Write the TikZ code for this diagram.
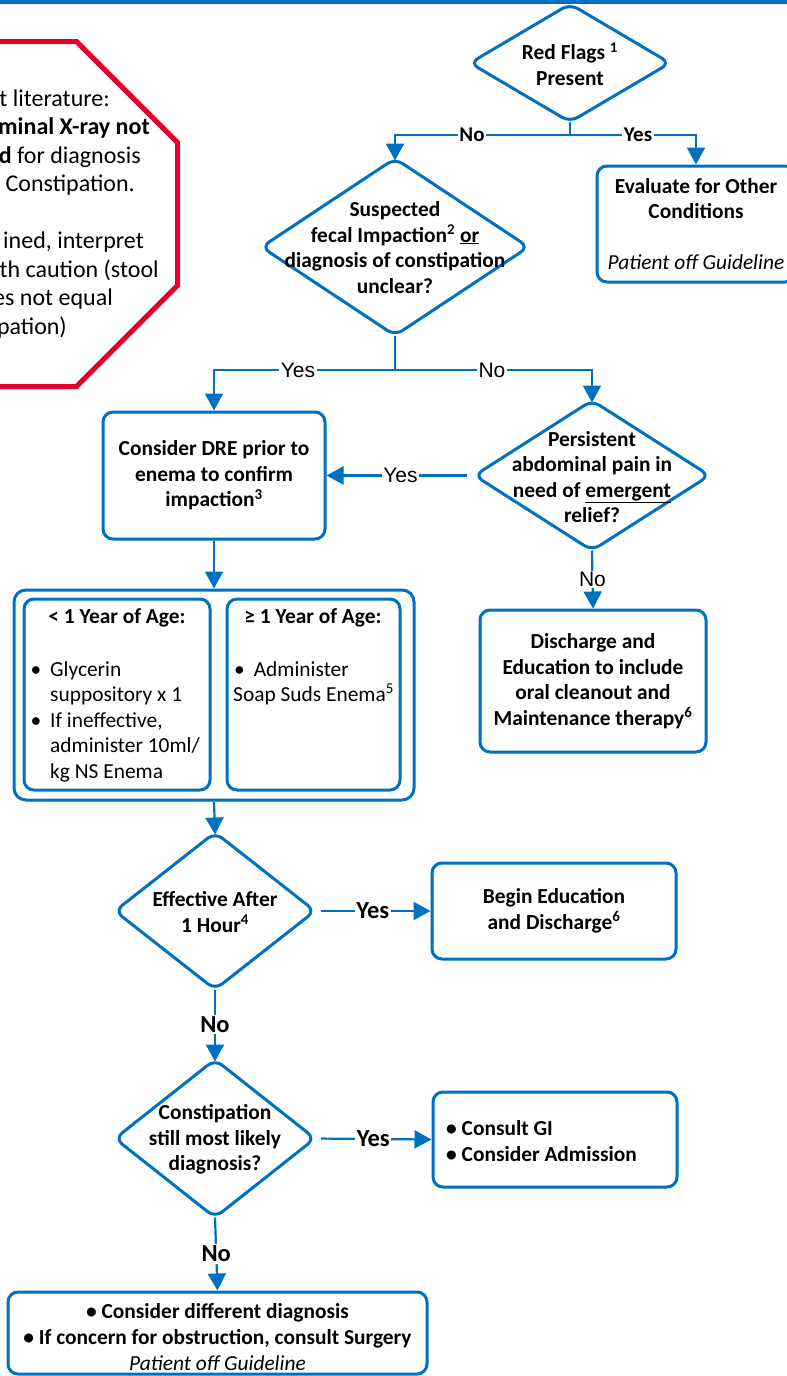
\documentclass[tikz,border=0pt]{standalone}
\usepackage{fontspec}
\setmainfont{Carlito}
\newfontfamily\arialf{Liberation Sans}
\usetikzlibrary{arrows.meta,shapes.geometric}
\definecolor{myblue}{RGB}{0,112,192}
\definecolor{myred}{RGB}{228,0,43}
\newcommand{\boxfont}{\bfseries\fontsize{21.4}{25.6}\selectfont}
\newcommand{\regfont}{\mdseries\fontsize{21.4}{25.6}\selectfont}
\tikzset{
  box/.style={draw=myblue, line width=3pt, rounded corners=10pt, fill=white, align=center, inner sep=0pt, font=\boxfont},
  dia/.style={diamond, draw=myblue, line width=3pt, rounded corners=9pt, fill=white, inner sep=0pt, outer sep=0pt},
  txt/.style={font=\boxfont, align=center, inner sep=0pt},
  rtxt/.style={font=\regfont, inner sep=0pt, anchor=base west},
  otext/.style={font=\fontsize{24}{28.5}\selectfont, inner sep=0pt, anchor=base east},
  conn/.style={draw=myblue, line width=2.2pt},
  arr/.style={conn, -{Triangle[width=18pt,length=17pt]}},
  labb/.style={font=\bfseries\fontsize{21}{25}\selectfont, fill=white, inner sep=1.5pt},
  labbig/.style={font=\bfseries\fontsize{24.5}{28}\selectfont, fill=white, inner sep=1.5pt},
  labr/.style={font=\arialf\fontsize{21}{25}\selectfont, fill=white, inner sep=1.5pt}
}
\begin{document}
\begin{tikzpicture}[x=1pt,y=-1pt]
\useasboundingbox (0,0) rectangle (787,1376);
\clip (0,0) rectangle (787,1376);
\fill[white] (0,0) rectangle (787,1376);
% top rule
\fill[myblue] (0,0) rectangle (787,3.5);

% red octagon
\draw[myred, line width=5pt, line join=miter] (-66.5,41.5) -- (76.5,41.5) -- (177.5,142.5) -- (177.5,285.5) -- (76.5,386.5) -- (-66.5,386.5) -- (-167.5,285.5) -- (-167.5,142.5) -- cycle;
\node[otext] (o1) at (110,106) {t literature:};
\node[otext] (o2) at (150,134.5) {\textbf{minal X-ray not}};
\node[otext] (o3) at (141,163) {\textbf{d} for diagnosis};
\node[otext] (o4) at (135,191.5) {Constipation.};
\node[otext] (o5) at (144,248.5) {ined, interpret};
\node[otext] (o6) at (159,277) {th caution (stool};
\node[otext] (o7) at (113,305.5) {es not equal};
\node[otext] (o8) at (67,334) {pation)};

% Red flags
\node[dia, minimum width=200pt, minimum height=118pt] (rf) at (570,63) {};
\node[txt] (rft) at (570,64) {Red Flags \textsuperscript{1}\\Present};

% Evaluate
\node[box, minimum width=198pt, minimum height=116pt] (eval) at (696,224) {Evaluate for Other\\Conditions\\[25.6pt]{\mdseries\itshape Patient off Guideline}};

% Suspected
\node[dia, minimum width=267pt, minimum height=177pt] (sus) at (395,247) {};
\node[txt] (sust) at (395,247.5) {Suspected\\fecal Impaction\textsuperscript{2} \underline{or}\\diagnosis of constipation\\unclear?};

% DRE
\node[box, minimum width=222pt, minimum height=127pt] (dre) at (214,475.5) {Consider DRE prior to\\enema to confirm\\impaction\textsuperscript{3}};

% Persistent
\node[dia, minimum width=235pt, minimum height=150pt] (per) at (592,475.5) {};
\node[txt] (pert) at (592,477) {Persistent\\abdominal pain in\\need of \underline{emergent}\\relief?};

% Discharge
\node[box, minimum width=226pt, minimum height=142pt] (disc) at (593,681) {Discharge and\\Education to include\\oral cleanout and\\Maintenance therapy\textsuperscript{6}};

% Container
\node[box, minimum width=400pt, minimum height=210pt, rounded corners=12pt] (cont) at (214,695) {};
\node[box, minimum width=186pt, minimum height=191pt] (inl) at (117,694.5) {};
\node[box, minimum width=173pt, minimum height=191pt] (inr) at (313.5,694.5) {};
\node[txt, anchor=base] (tl) at (117,623) {< 1 Year of Age:};
\node[txt, anchor=base] (tr) at (313,623) {≥ 1 Year of Age:};
\node[rtxt] (l1) at (50,676) {\llap{•\hspace{9pt}}Glycerin};
\node[rtxt] (l2) at (50,701.5) {suppository x 1};
\node[rtxt] (l3) at (50,727) {\llap{•\hspace{9pt}}If ineffective,};
\node[rtxt] (l4) at (50,752.5) {administer 10ml/};
\node[rtxt] (l5) at (50,778) {kg NS Enema};
\node[rtxt] (r1) at (234,676) {•\hspace{9pt}Administer};
\node[rtxt] (r2) at (233,701.5) {Soap Suds Enema\textsuperscript{5}};

% Effective
\node[dia, minimum width=200pt, minimum height=157pt] (eff) at (215,911) {};
\node[txt] (efft) at (215,912) {Effective After\\1 Hour\textsuperscript{4}};

% Begin
\node[box, minimum width=244pt, minimum height=96pt] (begin) at (554,911) {Begin Education\\and Discharge\textsuperscript{6}};

% Constipation
\node[dia, minimum width=200pt, minimum height=158pt] (const) at (215,1138.5) {};
\node[txt] (constt) at (215,1139.5) {Constipation\\still most likely\\diagnosis?};

% Consult
\node[box, minimum width=244pt, minimum height=95pt] (consult) at (555,1139.5) {};
\node[txt, align=left, anchor=west] (consultt) at (446,1141) {• Consult GI\\• Consider Admission};

% Bottom
\node[box, minimum width=419pt, minimum height=82pt] (bot) at (217.5,1333) {};
\node[txt] (bott) at (217.5,1337) {• Consider different diagnosis\\• If concern for obstruction, consult Surgery\\{\mdseries\itshape Patient off Guideline}};

% connectors
\coordinate (j1) at (570,135);
\draw[conn] (rf.south) -- (j1);
\draw[arr, shorten >=-2pt] (j1) -| node[labb, pos=0.28] {No} (sus.north);
\draw[arr] (j1) -| node[labb, pos=0.27] {Yes} (eval.north);

\coordinate (j2) at (395,370);
\draw[conn] (sus.south) -- (j2);
\draw[arr] (j2) -| node[labr, pos=0.268] {Yes} (dre.north);
\draw[arr, shorten >=-2pt] (j2) -| node[labr, pos=0.246] {No} (per.north);

\draw[arr, shorten <=8pt] (per.west) -- node[labr] {Yes} (dre.east);
\draw[arr] (per.south) -- node[labr] {No} (disc.north);
\draw[arr] (dre.south) -- (cont.north);
\draw[arr, shorten >=-2pt] (cont.south) -- (eff.north);
\draw[arr, shorten <=6pt] (eff.east) -- node[labbig] {Yes} (begin.west);
\draw[arr, shorten >=-2pt] (eff.south) -- node[labbig] {No} (const.north);
\draw[arr, shorten <=6pt] (const.east) -- node[labbig] {Yes} (consult.west);
\draw[arr] (const.south) -- node[labbig] {No} (bot.north);
\end{tikzpicture}
\end{document}
